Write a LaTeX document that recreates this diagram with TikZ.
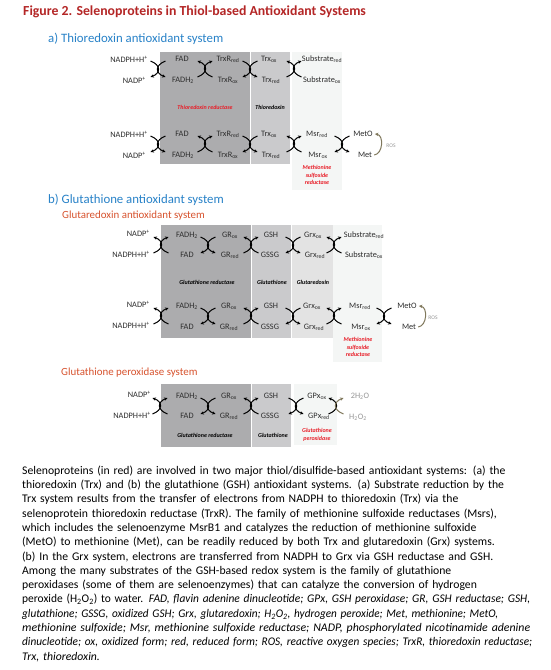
\documentclass[tikz,border=0pt]{standalone}
\usepackage{fontspec}
\usepackage{graphicx}
\setmainfont{Carlito}
\usetikzlibrary{arrows.meta,calc}
\definecolor{titlered}{RGB}{180,38,38}
\definecolor{hblue}{RGB}{40,130,200}
\definecolor{horange}{RGB}{215,82,45}
\definecolor{selred}{RGB}{232,30,40}
\definecolor{dtext}{RGB}{45,45,45}
\definecolor{boxA}{RGB}{172,172,174}
\definecolor{boxB}{RGB}{202,202,204}
\definecolor{boxC}{RGB}{227,227,227}
\definecolor{boxD}{RGB}{244,246,245}
\definecolor{olivec}{RGB}{128,120,92}
\definecolor{ltext}{RGB}{150,150,150}
\newcommand\sbs[1]{\textsubscript{#1}}
\newcommand\sps[1]{\textsuperscript{#1}}
\newcommand\fitline[2]{\resizebox{#1}{\height}{#2}}
\newcommand\xdn[2][black]{%
 \draw[arr] ($(#2)+(-7.5,-8)$) .. controls ($(#2)+(3,-4)$) and ($(#2)+(3,4)$) .. ($(#2)+(-7.5,8)$);
 \draw[arr,#1] ($(#2)+(7.5,-8)$) .. controls ($(#2)+(-3,-4)$) and ($(#2)+(-3,4)$) .. ($(#2)+(7.5,8)$);}
\newcommand\xup[2][black]{%
 \draw[arr] ($(#2)+(-7.5,8)$) .. controls ($(#2)+(3,4)$) and ($(#2)+(3,-4)$) .. ($(#2)+(-7.5,-8)$);
 \draw[arr,#1] ($(#2)+(7.5,8)$) .. controls ($(#2)+(-3,4)$) and ($(#2)+(-3,-4)$) .. ($(#2)+(7.5,-8)$);}
\begin{document}
\begin{tikzpicture}[x=1pt,y=-1pt,
  arr/.style={line width=1pt,-{Stealth[length=3.4pt,width=3.4pt]}},
  oarr/.style={line width=1pt,olivec,-{Stealth[length=3.4pt,width=3.4pt]}},
  t/.style={font=\fontsize{8.3}{9.6}\selectfont,text=dtext,inner sep=0pt},
  tl/.style={t,text=ltext},
  blab/.style={font=\fontsize{6}{7.5}\selectfont\bfseries\itshape,text=black,inner sep=0pt,align=center},
  rlab/.style={blab,text=selred},
  ros/.style={font=\fontsize{5.5}{6}\selectfont,text=ltext,inner sep=0pt},
  head/.style={font=\fontsize{12.8}{14}\selectfont,text=hblue,inner sep=0pt,anchor=west},
  subhead/.style={font=\fontsize{10.9}{12}\selectfont,text=horange,inner sep=0pt,anchor=west},
  body/.style={font=\fontsize{11.7}{14.3}\selectfont,align=left,text width=528pt,inner sep=0pt,anchor=north west}
]
\useasboundingbox (0,0) rectangle (550,670);
\fill[white] (0,0) rectangle (550,670);

% title and headings
\node[font=\fontsize{13.8}{15}\selectfont\bfseries,text=titlered,inner sep=0pt,anchor=west] (title) at (23,12) {Figure 2. Selenoproteins in Thiol-based Antioxidant Systems};
\node[head] (ha) at (48,39) {a) Thioredoxin antioxidant system};
\node[head] (hb) at (48,200) {b) Glutathione antioxidant system};
\node[subhead] (hb1) at (62,216) {Glutaredoxin antioxidant system};
\node[subhead] (hb3) at (61,373) {Glutathione peroxidase system};

% ===== a) boxes
\fill[boxA] (160,52) rectangle (250,164);
\fill[boxB] (251,52) rectangle (290,164);
\fill[boxD] (292,52) rectangle (342,190);

% a1
\node[t,anchor=east] (a1nadph) at (148,59) {NADPH+H\sps{+}};
\node[t,anchor=east] (a1nadp) at (146,80) {NADP\sps{+}};
\node[t] (a1fad) at (182,59) {FAD};
\node[t] (a1fadh) at (183,80) {FADH\sbs{2}};
\node[t] (a1trxrr) at (228,59) {TrxR\sbs{red}};
\node[t] (a1trxro) at (228,80) {TrxR\sbs{ox}};
\node[t] (a1trxo) at (269,59) {Trx\sbs{ox}};
\node[t] (a1trxr) at (271,80) {Trx\sbs{red}};
\node[t] (a1subr) at (322,59) {Substrate\sbs{red}};
\node[t] (a1subo) at (322,80) {Substrate\sbs{ox}};
\coordinate (xa11) at (158,69);
\coordinate (xa12) at (205,69);
\coordinate (xa13) at (250,69);
\coordinate (xa14) at (294,69);
\xdn{xa11}\xup{xa12}\xdn{xa13}\xup{xa14}
\node[rlab] (la1) at (205,107) {Thioredoxin reductase};
\node[blab] (la2) at (270,107) {Thioredoxin};

% a2
\node[t,anchor=east] (a2nadph) at (148,134) {NADPH+H\sps{+}};
\node[t,anchor=east] (a2nadp) at (146,155) {NADP\sps{+}};
\node[t] (a2fad) at (182,134) {FAD};
\node[t] (a2fadh) at (183,155) {FADH\sbs{2}};
\node[t] (a2trxrr) at (228,134) {TrxR\sbs{red}};
\node[t] (a2trxro) at (228,155) {TrxR\sbs{ox}};
\node[t] (a2trxo) at (269,134) {Trx\sbs{ox}};
\node[t] (a2trxr) at (271,155) {Trx\sbs{red}};
\node[t] (a2msrr) at (317,134) {Msr\sbs{red}};
\node[t] (a2msro) at (318,155) {Msr\sbs{ox}};
\node[t] (a2meto) at (363,134) {MetO};
\node[t] (a2met) at (365,155) {Met};
\coordinate (xa21) at (158,144);
\coordinate (xa22) at (205,144);
\coordinate (xa23) at (250,144);
\coordinate (xa24) at (294,144);
\coordinate (xa25) at (342,144);
\xdn{xa21}\xup{xa22}\xdn{xa23}\xup{xa24}\xdn{xa25}
\draw[oarr] ($(a2met.east)+(2,0)$) .. controls ($(a2met.east)+(11,-1)$) and ($(a2meto.east)+(11,1)$) .. ($(a2meto.east)+(2,0)$);
\node[ros] (a2ros) at (391,146) {ROS};
\node[rlab] (la3) at (317,175) {Methionine\\sulfoxide\\reductase};

% ===== b) glutaredoxin boxes
\fill[boxA] (161,225) rectangle (251,338);
\fill[boxB] (252,225) rectangle (291,338);
\fill[boxC] (292,225) rectangle (333,338);
\fill[boxD] (333,225) rectangle (382,362);

% b1
\node[t,anchor=east] (b1nadp) at (150,233) {NADP\sps{+}};
\node[t,anchor=east] (b1nadph) at (150,254) {NADPH+H\sps{+}};
\node[t] (b1fadh) at (187,235) {FADH\sbs{2}};
\node[t] (b1fad) at (187,255) {FAD};
\node[t] (b1gro) at (230,235) {GR\sbs{ox}};
\node[t] (b1grr) at (230,255) {GR\sbs{red}};
\node[t] (b1gsh) at (271,235) {GSH};
\node[t] (b1gssg) at (270,255) {GSSG};
\node[t] (b1grxo) at (313,235) {Grx\sbs{ox}};
\node[t] (b1grxr) at (315,255) {Grx\sbs{red}};
\node[t] (b1subr) at (364,235) {Substrate\sbs{red}};
\node[t] (b1subo) at (364,255) {Substrate\sbs{ox}};
\coordinate (xb11) at (161,245);
\coordinate (xb12) at (208,245);
\coordinate (xb13) at (251,245);
\coordinate (xb14) at (293,245);
\coordinate (xb15) at (334,245);
\xup{xb11}\xdn{xb12}\xup{xb13}\xdn{xb14}\xup{xb15}
\node[blab] (lb1) at (207,282) {Glutathione reductase};
\node[blab] (lb2) at (272,282) {Glutathione};
\node[blab] (lb3) at (313,282) {Glutaredoxin};

% b2
\node[t,anchor=east] (b2nadp) at (150,304) {NADP\sps{+}};
\node[t,anchor=east] (b2nadph) at (150,325) {NADPH+H\sps{+}};
\node[t] (b2fadh) at (187,306) {FADH\sbs{2}};
\node[t] (b2fad) at (187,327) {FAD};
\node[t] (b2gro) at (229,306) {GR\sbs{ox}};
\node[t] (b2grr) at (229,327) {GR\sbs{red}};
\node[t] (b2gsh) at (271,306) {GSH};
\node[t] (b2gssg) at (270,327) {GSSG};
\node[t] (b2grxo) at (312,306) {Grx\sbs{ox}};
\node[t] (b2grxr) at (314,327) {Grx\sbs{red}};
\node[t] (b2msrr) at (360,306) {Msr\sbs{red}};
\node[t] (b2msro) at (361,327) {Msr\sbs{ox}};
\node[t] (b2meto) at (407,306) {MetO};
\node[t] (b2met) at (409,327) {Met};
\coordinate (xb21) at (161,316);
\coordinate (xb22) at (208,316);
\coordinate (xb23) at (251,316);
\coordinate (xb24) at (293,316);
\coordinate (xb25) at (334,316);
\coordinate (xb26) at (384,316);
\xup{xb21}\xdn{xb22}\xup{xb23}\xdn{xb24}\xup{xb25}\xdn{xb26}
\draw[oarr] ($(b2met.east)+(2,0)$) .. controls ($(b2met.east)+(11,-1)$) and ($(b2meto.east)+(11,1)$) .. ($(b2meto.east)+(2,0)$);
\node[ros] (b2ros) at (433,318) {ROS};
\node[rlab] (lb4) at (358,347) {Methionine\\sulfoxide\\reductase};

% ===== b3 glutathione peroxidase
\fill[boxA] (161,384) rectangle (251,447);
\fill[boxB] (252,384) rectangle (291,447);
\fill[boxD] (294,384) rectangle (337,445);
\node[t,anchor=east] (b3nadp) at (151,394) {NADP\sps{+}};
\node[t,anchor=east] (b3nadph) at (151,415) {NADPH+H\sps{+}};
\node[t] (b3fadh) at (187,396) {FADH\sbs{2}};
\node[t] (b3fad) at (187,416) {FAD};
\node[t] (b3gro) at (229,396) {GR\sbs{ox}};
\node[t] (b3grr) at (229,416) {GR\sbs{red}};
\node[t] (b3gsh) at (271,396) {GSH};
\node[t] (b3gssg) at (270,416) {GSSG};
\node[t] (b3gpxo) at (317,396) {GPx\sbs{ox}};
\node[t] (b3gpxr) at (319,416) {GPx\sbs{red}};
\node[tl] (b3wat) at (360,396) {2H\sbs{2}O};
\node[tl] (b3hp) at (358,417) {H\sbs{2}O\sbs{2}};
\coordinate (xb31) at (160,406);
\coordinate (xb32) at (208,406);
\coordinate (xb33) at (251,406);
\coordinate (xb34) at (296,406);
\coordinate (xb35) at (336,406);
\xup{xb31}\xdn{xb32}\xup{xb33}\xdn{xb34}\xup[olivec]{xb35}
\node[blab] (lb5) at (205,435) {Glutathione reductase};
\node[blab] (lb6) at (273,435) {Glutathione};
\node[rlab] (lb7) at (317,435) {Glutathione\\peroxidase};

% ===== caption
\node[body] (caption) at (22,465.5) {Selenoproteins (in red) are involved in two major thiol/disulfide-based antioxidant systems: (a) the\\
thioredoxin (Trx) and (b) the glutathione (GSH) antioxidant systems. (a) Substrate reduction by the\\
Trx system results from the transfer of electrons from NADPH to thioredoxin (Trx) via the\\
selenoprotein thioredoxin reductase (TrxR). The family of methionine sulfoxide reductases (Msrs),\\
which includes the selenoenzyme MsrB1 and catalyzes the reduction of methionine sulfoxide\\
(MetO) to methionine (Met), can be readily reduced by both Trx and glutaredoxin (Grx) systems.\\
(b) In the Grx system, electrons are transferred from NADPH to Grx via GSH reductase and GSH.\\
Among the many substrates of the GSH-based redox system is the family of glutathione\\
peroxidases (some of them are selenoenzymes) that can catalyze the conversion of hydrogen\\
\fitline{508pt}{peroxide (H\sbs{2}O\sbs{2}) to water. \textit{FAD, flavin adenine dinucleotide; GPx, GSH peroxidase; GR, GSH reductase; GSH,}}\\
\fitline{476pt}{\textit{glutathione; GSSG, oxidized GSH; Grx, glutaredoxin; H\sbs{2}O\sbs{2}, hydrogen peroxide; Met, methionine; MetO,}}\\
\fitline{508pt}{\textit{methionine sulfoxide; Msr, methionine sulfoxide reductase; NADP, phosphorylated nicotinamide adenine}}\\
\fitline{510pt}{\textit{dinucleotide; ox, oxidized form; red, reduced form; ROS, reactive oxygen species; TrxR, thioredoxin reductase;}}\\
\textit{Trx, thioredoxin.}};
\end{tikzpicture}
\end{document}
